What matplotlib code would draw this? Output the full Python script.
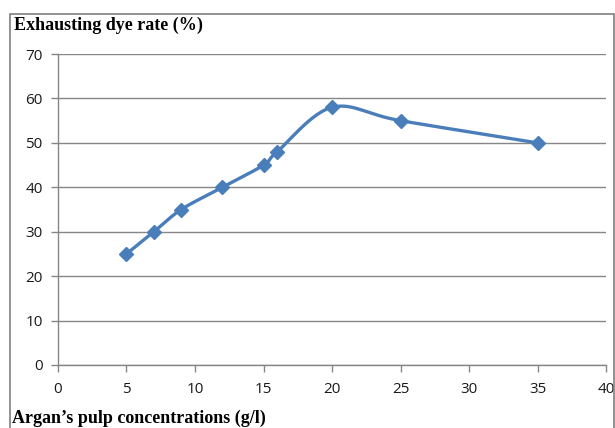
import numpy as np
import matplotlib.pyplot as plt
from matplotlib.patches import Rectangle

# data
conc = [5, 7, 9, 12, 15, 16, 20, 25, 35]
dye_rate = [25, 30, 35, 40, 45, 48, 58, 55, 50]

x_ticks = [0, 5, 10, 15, 20, 25, 30, 35, 40]
y_ticks = [0, 10, 20, 30, 40, 50, 60, 70]

BLUE = "#4a7ebb"
GRID = "#868686"


def smooth_curve(xs, ys, n=30):
    """Excel-like smoothed line (Catmull-Rom through the points)"""
    pts = np.column_stack([xs, ys]).astype(float)
    padded = np.vstack([pts[0], pts, pts[-1]])
    out = []
    for i in range(1, len(padded) - 2):
        p0, p1, p2, p3 = padded[i - 1], padded[i], padded[i + 1], padded[i + 2]
        c1 = p1 + (p2 - p0) / 6
        c2 = p2 - (p3 - p1) / 6
        t = np.linspace(0, 1, n)[:, None]
        seg = ((1 - t) ** 3) * p1 + 3 * ((1 - t) ** 2) * t * c1 + 3 * (1 - t) * t ** 2 * c2 + t ** 3 * p2
        out.append(seg)
    curve = np.vstack(out)
    return curve[:, 0], curve[:, 1]


fig = plt.figure(figsize=(6.15, 4.28), dpi=100)
ax = fig.add_axes([0.0943, 0.1472, 0.8911, 0.7266])

# outer frame of the chart area
fig.patches.append(Rectangle((10 / 615, -0.05), 604 / 615, 1 - 14 / 428 + 0.05,
                             transform=fig.transFigure, fill=False,
                             edgecolor="#7f7f7f", linewidth=1.2))

sx, sy = smooth_curve(conc, dye_rate)
ax.plot(sx, sy, color=BLUE, linewidth=2.4, solid_capstyle="round", zorder=3)
ax.plot(conc, dye_rate, linestyle="none", marker="D", markersize=7.5,
        color=BLUE, zorder=4)

ax.set_xlim(0, 40)
ax.set_ylim(0, 70)
ax.set_xticks(x_ticks)
ax.set_yticks(y_ticks)
ax.yaxis.grid(True, color=GRID, linewidth=1)
ax.set_axisbelow(True)

for side in ["top", "right"]:
    ax.spines[side].set_visible(False)
for side in ["left", "bottom"]:
    ax.spines[side].set_color(GRID)
    ax.spines[side].set_linewidth(1)

ax.tick_params(axis="both", colors=GRID, length=5, width=1, labelcolor="#1a1a1a",
               labelsize=11)
ax.tick_params(axis="x", pad=7)
ax.tick_params(axis="y", pad=6)
for lab in ax.get_xticklabels() + ax.get_yticklabels():
    lab.set_fontfamily("Open Sans")

fig.text(14 / 615, 1 - 25 / 428, "Exhausting dye rate (%)", family="Liberation Serif",
         fontweight="bold", fontsize=13, va="center", ha="left")
fig.text(12 / 615, 1 - 418 / 428, "Argan\u2019s pulp concentrations (g/l)",
         family="Liberation Serif", fontweight="bold", fontsize=13,
         va="center", ha="left")

fig.savefig("out.png", dpi=100)
